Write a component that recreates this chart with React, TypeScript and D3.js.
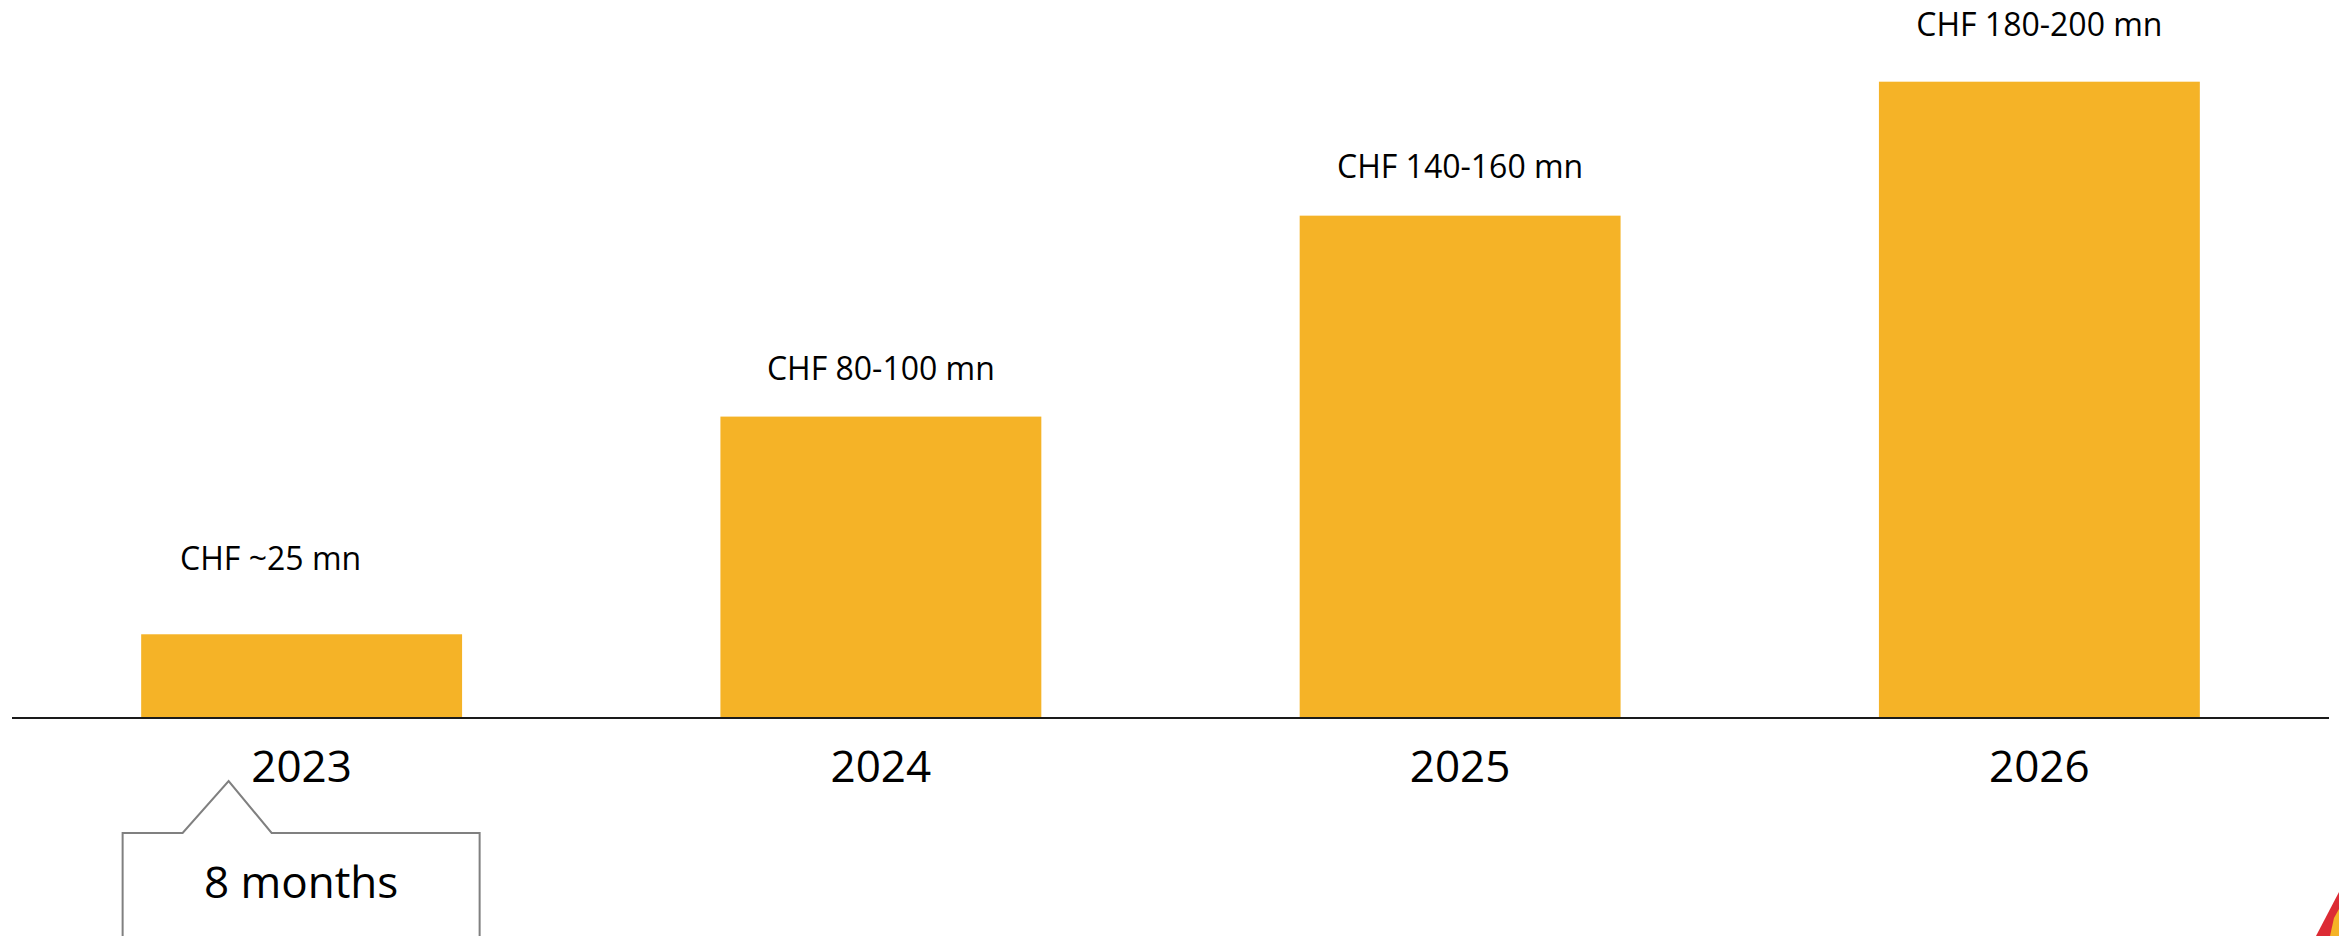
import React from "react";
import * as d3 from "d3";

// ---- data ----
const years: string[] = ["2023", "2024", "2025", "2026"];
const values: number[] = [25, 90, 150, 190];
const valueLabels: string[] = ["CHF ~25 mn", "CHF 80-100 mn", "CHF 140-160 mn", "CHF 180-200 mn"];
const calloutText = "8 months";

// ---- layout / style ----
const W = 2339;
const H = 936;
const AXIS_Y = 718;
const X0 = 12;
const X1 = 2329;
const TOP_Y = 81.7;
const LABEL_GAP = [64, 37, 38, 46];
const LABEL_DX = [-31, 0, 0, 0];
const BAR_COLOR = "#F5B327";
const FONT = "'Open Sans', 'Noto Sans', sans-serif";

export default function App() {
  const x = d3
    .scaleBand<string>()
    .domain(years)
    .range([X0, X1])
    .paddingInner(0.446)
    .paddingOuter(0.223);
  const y = d3.scaleLinear().domain([0, 190]).range([AXIS_Y, TOP_Y]);

  const firstCenter = (x(years[0]) ?? 0) + x.bandwidth() / 2;

  // callout geometry relative to first category center
  const boxL = firstCenter - 179;
  const boxR = firstCenter + 178;
  const boxT = 833;
  const peakX = firstCenter - 73;
  const peakY = 781;
  const callout = d3.path();
  callout.moveTo(boxL, H + 10);
  callout.lineTo(boxL, boxT);
  callout.lineTo(peakX - 46, boxT);
  callout.lineTo(peakX, peakY);
  callout.lineTo(peakX + 43, boxT);
  callout.lineTo(boxR, boxT);
  callout.lineTo(boxR, H + 10);

  return (
    <svg
      width={W}
      height={H}
      viewBox={`0 0 ${W} ${H}`}
      style={{ position: "absolute", left: 0, top: 0, background: "#fff", display: "block" }}
    >
      <rect x={0} y={0} width={W} height={H} fill="#fff" />
      {years.map((yr, i) => {
        const bx = x(yr) ?? 0;
        const top = y(values[i]);
        return (
          <g key={yr}>
            <rect x={bx} y={top} width={x.bandwidth()} height={AXIS_Y - top} fill={BAR_COLOR} />
            <text
              x={bx + x.bandwidth() / 2 + LABEL_DX[i]}
              y={top - LABEL_GAP[i]}
              textAnchor="middle"
              fontFamily={FONT}
              fontSize={32}
              fill="#000"
            >
              {valueLabels[i]}
            </text>
            <text
              x={bx + x.bandwidth() / 2}
              y={782}
              textAnchor="middle"
              fontFamily={FONT}
              fontSize={44}
              fill="#000"
            >
              {yr}
            </text>
          </g>
        );
      })}
      <line x1={X0} x2={X1} y1={AXIS_Y} y2={AXIS_Y} stroke="#1a1a1a" strokeWidth={2} />
      <path d={callout.toString()} fill="#fff" stroke="#808080" strokeWidth={2} />
      <text
        x={(boxL + boxR) / 2}
        y={898}
        textAnchor="middle"
        fontFamily={FONT}
        fontSize={44}
        fill="#000"
      >
        {calloutText}
      </text>
      <polygon points="2316,936 2339,892 2339,936" fill="#DC2B34" />
      <polygon points="2330,936 2334,918 2339,909 2339,936" fill="#F5B327" />
    </svg>
  );
}
